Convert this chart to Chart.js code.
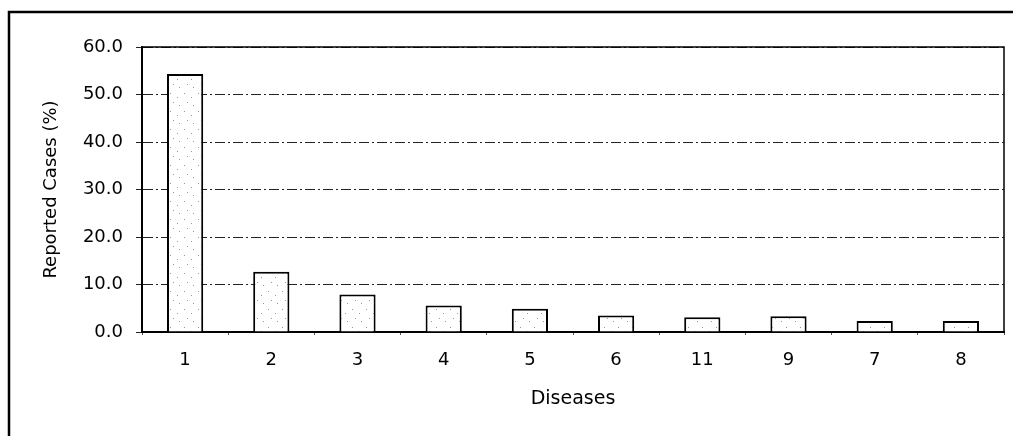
<!DOCTYPE html>
<html>
<head>
<meta charset="utf-8">
<script src="https://cdn.jsdelivr.net/npm/chart.js@4/dist/chart.umd.min.js"></script>
<style>
  html, body { margin: 0; padding: 0; background: #fff; }
  #wrap { width: 1013px; height: 436px; }
</style>
</head>
<body>
<div id="wrap"><canvas id="grafico" width="1013" height="436"></canvas></div>
<script>
// Datos: porcentaje de casos reportados por enfermedad
const diseases = ['1', '2', '3', '4', '5', '6', '11', '9', '7', '8'];
const reportedPct = [54.3, 12.7, 7.9, 5.6, 4.9, 3.5, 3.1, 3.3, 2.3, 2.3];
const yTicks = [0, 10, 20, 30, 40, 50, 60];

// relleno punteado de las barras
const dots = document.createElement('canvas');
dots.width = 14; dots.height = 18;
const g = dots.getContext('2d');
g.fillStyle = '#ffffff';
g.fillRect(0, 0, 14, 18);
g.fillStyle = '#9a9a9a';
[[2, 3], [9, 7], [5, 12], [11, 15]].forEach(([x, y]) => g.fillRect(x, y, 1, 1));
const ctx = document.getElementById('grafico').getContext('2d');
const dotFill = ctx.createPattern(dots, 'repeat');

// marco exterior y borde del area de trazado
const marcos = {
    id: 'marcos',
    beforeDraw(chart) {
        const c = chart.ctx;
        c.save();
        c.fillStyle = '#fff';
        c.fillRect(0, 0, chart.width, chart.height);
        c.strokeStyle = '#000';
        c.lineWidth = 2.5;
        c.strokeRect(9, 12, chart.width + 20, chart.height + 20);
        c.restore();
    },
    afterDatasetsDraw(chart) {
        const a = chart.chartArea;
        const c = chart.ctx;
        c.save();
        c.strokeStyle = '#000';
        c.lineWidth = 1.5;
        c.beginPath();
        c.moveTo(a.left, a.top);
        c.lineTo(a.right, a.top);
        c.lineTo(a.right, a.bottom);
        c.stroke();
        c.restore();
    }
};

new Chart(ctx, {
    type: 'bar',
    data: {
        labels: diseases,
        datasets: [{
            label: 'Reported Cases (%)',
            data: reportedPct,
            backgroundColor: dotFill,
            borderColor: '#000',
            borderWidth: 2,
            barPercentage: 0.42,
            categoryPercentage: 1
        }]
    },
    options: {
        responsive: false,
        animation: false,
        layout: { padding: { left: 0, top: 47, right: 9, bottom: 0 } },
        plugins: {
            legend: { display: false },
            tooltip: { enabled: false }
        },
        scales: {
            x: {
                offset: true,
                afterFit: (s) => { s.height = 104; },
                grid: {
                    offset: true,
                    drawOnChartArea: false,
                    drawTicks: true,
                    tickLength: 3,
                    color: '#555'
                },
                border: { display: true, color: '#000', width: 2 },
                ticks: {
                    color: '#000',
                    padding: 15,
                    font: { family: 'DejaVu Sans', size: 18 }
                },
                title: {
                    display: true,
                    text: 'Diseases',
                    color: '#000',
                    padding: { top: 0, bottom: 26 },
                    font: { family: 'DejaVu Sans', size: 19 }
                }
            },
            y: {
                min: 0,
                max: 60,
                afterFit: (s) => { s.width = 142; },
                afterBuildTicks: (s) => { s.ticks = yTicks.map(v => ({ value: v })); },
                grid: {
                    color: '#222',
                    lineWidth: 1,
                    tickLength: 6,
                    tickBorderDash: [10, 3, 2, 3]
                },
                // en v4 el guion de las lineas de rejilla va en border.dash
                border: { display: true, color: '#000', width: 2, dash: [10, 3, 2, 3] },
                ticks: {
                    color: '#000',
                    padding: 13,
                    font: { family: 'DejaVu Sans', size: 18 },
                    callback: (v) => Number(v).toFixed(1)
                },
                title: {
                    display: true,
                    text: 'Reported Cases (%)',
                    color: '#000',
                    padding: { top: 41, bottom: 0 },
                    font: { family: 'DejaVu Sans', size: 18 }
                }
            }
        }
    },
    plugins: [marcos]
});
</script>
</body>
</html>
